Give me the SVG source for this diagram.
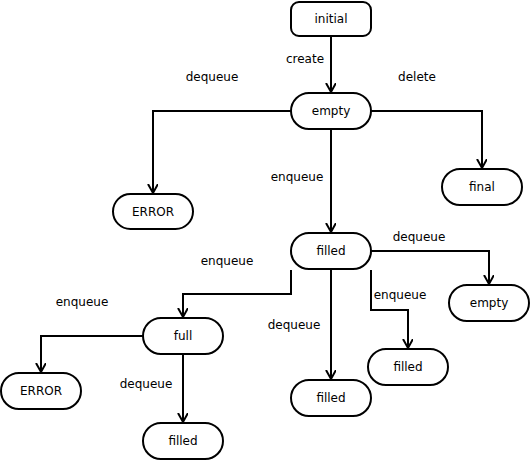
<svg xmlns="http://www.w3.org/2000/svg" width="530" height="460" viewBox="0 0 530 460">
  <style>
    .node rect { fill: #ffffff; stroke: #000000; stroke-width: 2; }
    .node text, .label { font-family: "DejaVu Sans", sans-serif; font-size: 12px; fill: #000000; }
    .node text { text-anchor: middle; dominant-baseline: central; }
    .label { text-anchor: middle; dominant-baseline: central; }
    .edge { fill: none; stroke: #000000; stroke-width: 2; marker-end: url(#arrow); }
  </style>
  <defs>
    <marker id="arrow" markerUnits="userSpaceOnUse" markerWidth="12" markerHeight="12" refX="9" refY="5" orient="auto">
      <path d="M0,0 L9,5 L0,10" fill="none" stroke="#000000" stroke-width="2"/>
    </marker>
  </defs>

  <rect width="530" height="460" fill="#ffffff"/>

  <g id="connectors">
    <path class="edge" d="M331,36 L331,92"/>
    <path class="edge" d="M291,111 L153,111 L153,193"/>
    <path class="edge" d="M371,111 L482,111 L482,168"/>
    <path class="edge" d="M331,129 L331,232"/>
    <path class="edge" d="M371,251 L489,251 L489,284"/>
    <path class="edge" d="M291,270 L291,294 L183,294 L183,317"/>
    <path class="edge" d="M371,270 L371,310 L408,310 L408,348"/>
    <path class="edge" d="M331,270 L331,379"/>
    <path class="edge" d="M143,336 L41,336 L41,372"/>
    <path class="edge" d="M183,355 L183,422"/>
  </g>

  <g id="labels">
    <text class="label" x="305" y="59">create</text>
    <text class="label" x="212" y="77">dequeue</text>
    <text class="label" x="417" y="77">delete</text>
    <text class="label" x="297" y="177">enqueue</text>
    <text class="label" x="419" y="237">dequeue</text>
    <text class="label" x="227" y="261">enqueue</text>
    <text class="label" x="82" y="302">enqueue</text>
    <text class="label" x="400" y="295">enqueue</text>
    <text class="label" x="294" y="325">dequeue</text>
    <text class="label" x="146" y="384">dequeue</text>
  </g>

  <g id="node-initial" class="node">
    <rect x="291" y="2" width="80" height="34" rx="8"/>
    <text x="331" y="19">initial</text>
  </g>
  <g id="node-empty" class="node">
    <rect x="291" y="93" width="80" height="36" rx="18"/>
    <text x="331" y="111">empty</text>
  </g>
  <g id="node-error-1" class="node">
    <rect x="113" y="194" width="80" height="35" rx="17.5"/>
    <text x="153" y="211.5">ERROR</text>
  </g>
  <g id="node-final" class="node">
    <rect x="442" y="169" width="80" height="36" rx="18"/>
    <text x="482" y="187">final</text>
  </g>
  <g id="node-filled" class="node">
    <rect x="291" y="233" width="80" height="36" rx="18"/>
    <text x="331" y="251">filled</text>
  </g>
  <g id="node-empty-2" class="node">
    <rect x="449" y="285" width="80" height="36" rx="18"/>
    <text x="489" y="303">empty</text>
  </g>
  <g id="node-full" class="node">
    <rect x="143" y="318" width="80" height="36" rx="18"/>
    <text x="183" y="336">full</text>
  </g>
  <g id="node-filled-enq" class="node">
    <rect x="368" y="349" width="80" height="36" rx="18"/>
    <text x="408" y="367">filled</text>
  </g>
  <g id="node-filled-deq" class="node">
    <rect x="291" y="380" width="80" height="36" rx="18"/>
    <text x="331" y="398">filled</text>
  </g>
  <g id="node-error-2" class="node">
    <rect x="1" y="373" width="80" height="36" rx="18"/>
    <text x="41" y="391">ERROR</text>
  </g>
  <g id="node-filled-full" class="node">
    <rect x="143" y="423" width="80" height="36" rx="18"/>
    <text x="183" y="441">filled</text>
  </g>
</svg>
